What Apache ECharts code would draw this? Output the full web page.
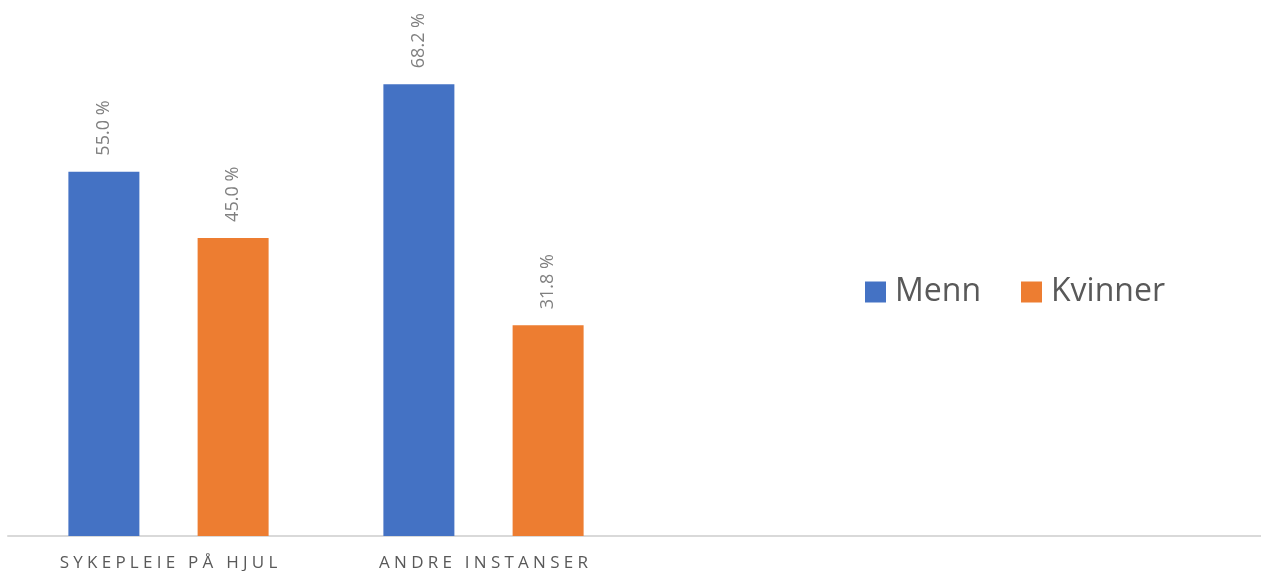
<!DOCTYPE html>
<html>
<head>
<meta charset="utf-8">
<script src="https://cdn.jsdelivr.net/npm/echarts@6/dist/echarts.min.js"></script>
<style>
  html, body { margin: 0; padding: 0; background: #fff; }
  #chart { width: 1261px; height: 571px; }
</style>
</head>
<body>
<div id="chart"></div>
<script>
// Kategorier og verdier (prosent)
const categories = ['SYKEPLEIE PÅ HJUL', 'ANDRE INSTANSER'];
const seriesNames = ['Menn', 'Kvinner'];
const menn = [55.0, 68.2];
const kvinner = [45.0, 31.8];
const colors = ['#4472C4', '#ED7D31'];

const chart = echarts.init(document.getElementById('chart'));

const labelStyle = {
    show: true,
    position: 'top',
    rotate: 90,
    align: 'left',
    verticalAlign: 'middle',
    distance: 16,
    fontFamily: 'Open Sans',
    fontSize: 18,
    color: '#808080',
    formatter: p => p.value.toFixed(1) + ' %'
};

// Spre bokstavene litt, som i originalen
const spaced = s => s.split('').join('\u2005');

chart.setOption({
    animation: false,
    color: colors,
    grid: [
        { left: 11, width: 630, top: 6, bottom: 35, outerBoundsMode: 'none' },
        { left: 8, right: 0, top: 6, bottom: 35, outerBoundsMode: 'none' }
    ],
    legend: {
        data: seriesNames,
        left: 860,
        top: 271,
        icon: 'rect',
        itemWidth: 21,
        itemHeight: 21,
        itemGap: 40,
        textStyle: {
            fontFamily: 'Open Sans',
            fontSize: 32,
            color: '#595959',
            padding: [0, 0, 0, 4]
        }
    },
    xAxis: [
        {
            type: 'category',
            gridIndex: 0,
            data: categories,
            axisLine: { show: false },
            axisTick: { show: false },
            axisLabel: {
                margin: 19,
                fontFamily: 'Open Sans',
                fontSize: 17,
                color: '#595959',
                formatter: spaced
            }
        },
        {
            type: 'value',
            gridIndex: 1,
            axisLine: { show: true, lineStyle: { color: '#D9D9D9', width: 2 } },
            axisTick: { show: false },
            axisLabel: { show: false },
            splitLine: { show: false }
        }
    ],
    yAxis: [
        { type: 'value', gridIndex: 0, min: 0, max: 80, show: false },
        { type: 'value', gridIndex: 1, show: false }
    ],
    series: [
        {
            name: seriesNames[0],
            type: 'bar',
            data: menn,
            barWidth: 71,
            barGap: '82%',
            label: labelStyle
        },
        {
            name: seriesNames[1],
            type: 'bar',
            data: kvinner,
            barWidth: 71,
            barGap: '82%',
            label: labelStyle
        }
    ]
});
</script>
</body>
</html>
